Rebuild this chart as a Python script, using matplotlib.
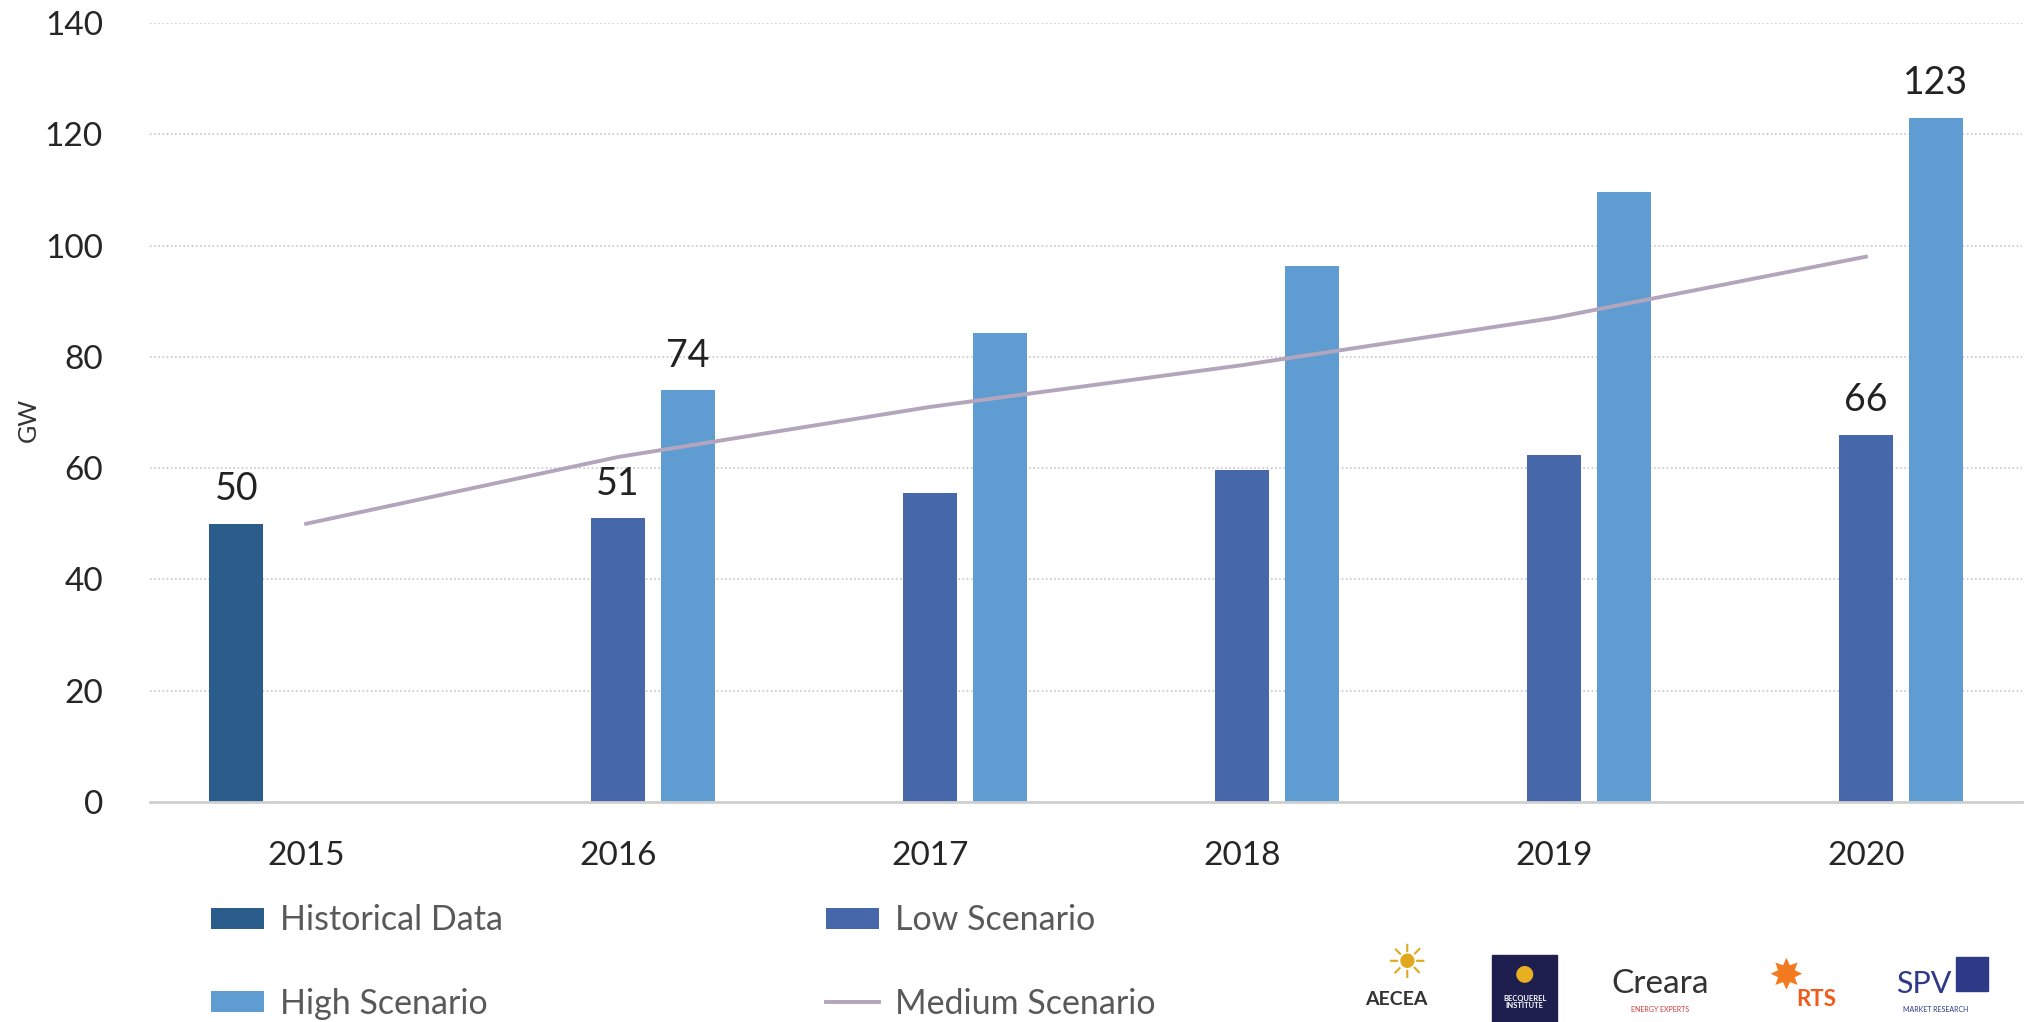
import numpy as np
import matplotlib
matplotlib.use("Agg")
import matplotlib.pyplot as plt
from matplotlib.patches import Rectangle

plt.rcParams['font.family'] = ['Lato', 'DejaVu Sans']

years = ['2015', '2016', '2017', '2018', '2019', '2020']
historical = [50]                     # 2015 only
low = [51, 55.5, 59.7, 62.4, 66]      # 2016-2020
high = [74, 84.3, 96.4, 109.6, 123]   # 2016-2020
medium = [50, 62, 71, 78.5, 87, 98]   # 2015-2020

labels_hist = ['50']
labels_low = {0: '51', 4: '66'}
labels_high = {0: '74', 4: '123'}

c_hist = '#2B5D8C'
c_low = '#4767AB'
c_high = '#5F9CD2'
c_med = '#B3A6BC'

fig = plt.figure(figsize=(20.29, 10.22), dpi=100)
ax = fig.add_axes([0.074, 0.2153, 0.9225, 0.7622])

x = np.arange(len(years))
w = 0.173
off = 0.224

b_hist = ax.bar(x[:1] - off, historical, w, color=c_hist, zorder=2)
b_low = ax.bar(x[1:], low, w, color=c_low, zorder=2)
b_high = ax.bar(x[1:] + off, high, w, color=c_high, zorder=2)
l_med, = ax.plot(x, medium, color=c_med, lw=2.8, zorder=3)

lab_kw = dict(textcoords='offset points', ha='center', va='bottom',
              fontsize=27, color='#222222')
ax.annotate(labels_hist[0], (x[0] - off, historical[0]), xytext=(0, 12), **lab_kw)
for i, t in labels_low.items():
    ax.annotate(t, (x[i + 1], low[i]), xytext=(0, 12), **lab_kw)
for i, t in labels_high.items():
    ax.annotate(t, (x[i + 1] + off, high[i]), xytext=(0, 12), **lab_kw)

ax.set_xlim(-0.5, 5.5)
ax.set_ylim(0, 140)
ax.set_yticks(range(0, 141, 20))
ax.set_xticks(x)
ax.set_xticklabels(years)
ax.tick_params(axis='both', length=0, labelsize=24, colors='#262626')
ax.tick_params(axis='y', pad=34)
ax.tick_params(axis='x', pad=28)
ax.set_ylabel('GW', fontsize=18, color='#333333')
ax.yaxis.set_label_coords(-0.059, 0.49)
ax.yaxis.grid(True, ls=(0, (1, 1.5)), color='#C8C8C8', lw=1.2, zorder=0)
ax.set_axisbelow(True)
for s in ['top', 'right', 'left']:
    ax.spines[s].set_visible(False)
ax.spines['bottom'].set_color('#D0D0D0')
ax.spines['bottom'].set_linewidth(2)
ax.spines['bottom'].set_zorder(4)

fig.legend([b_hist, b_high, b_low, l_med],
           ['Historical Data', 'High Scenario', 'Low Scenario', 'Medium Scenario'],
           ncol=2, loc='upper left', bbox_to_anchor=(0.104, 0.115),
           frameon=False, fontsize=24.5, labelcolor='#595959',
           handlelength=1.56, handleheight=0.55, handletextpad=0.47,
           columnspacing=9.5, labelspacing=1.5, borderpad=0, borderaxespad=0)

# partner logos, approximated with text
fig.text(0.688, 0.022, 'AECEA', fontsize=14, fontweight='bold',
         color='#333333', ha='center', va='center')
fig.text(0.693, 0.055, '\u2600', fontsize=34, color='#E0A81C',
         ha='center', va='center', family='DejaVu Sans')
fig.patches.append(Rectangle((0.7355, 0.0), 0.032, 0.066, transform=fig.transFigure,
                             color='#1E1F4E', zorder=1))
fig.text(0.7515, 0.02, 'BECQUEREL\nINSTITUTE', fontsize=5.5, fontweight='bold',
         color='white', ha='center', va='center', linespacing=1.0, zorder=2)
fig.text(0.7515, 0.048, '\u25CF', fontsize=16, color='#E8B020', ha='center',
         va='center', zorder=2, family='DejaVu Sans')
fig.text(0.818, 0.037, 'Creara', fontsize=24, color='#333333',
         ha='center', va='center')
fig.text(0.818, 0.012, 'ENERGY EXPERTS', fontsize=5, color='#D33A3A',
         ha='center', va='center')
fig.text(0.880, 0.045, '\u2738', fontsize=30, color='#F47A20',
         ha='center', va='center', family='DejaVu Sans')
fig.text(0.895, 0.022, 'RTS', fontsize=16, fontweight='bold', color='#F05A1A',
         ha='center', va='center')
fig.text(0.948, 0.037, 'SPV', fontsize=22, color='#2E3A87',
         ha='center', va='center')
fig.patches.append(Rectangle((0.964, 0.03), 0.016, 0.034, transform=fig.transFigure,
                             color='#2E3A87', zorder=1))
fig.text(0.954, 0.012, 'MARKET RESEARCH', fontsize=5, color='#2E3A87',
         ha='center', va='center')

fig.savefig('out.png', dpi=100)
